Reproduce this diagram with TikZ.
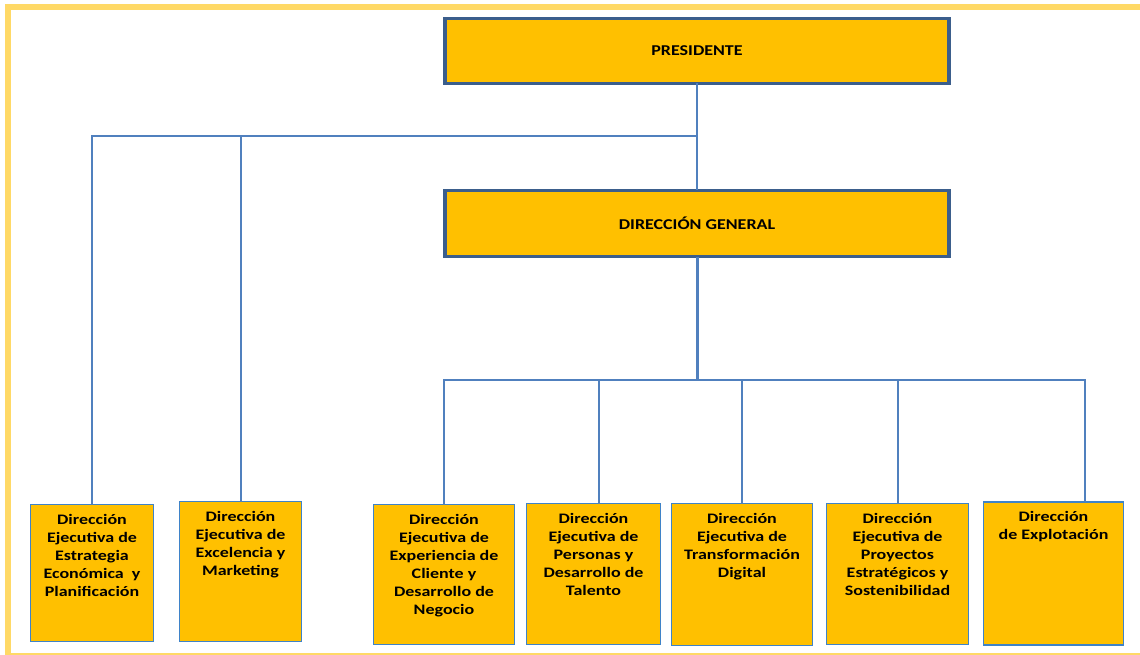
\documentclass[tikz,border=0pt]{standalone}
\usepackage{fontspec}
\setmainfont{Carlito}[FakeStretch=1.2]
\newfontfamily\lowfont{Carlito}[FakeStretch=1.24]
\usepackage{tikz}
\usetikzlibrary{positioning}
\usetikzlibrary{calc}

\definecolor{boxfill}{HTML}{FFC000}
\definecolor{topline}{HTML}{3B5E8C}
\definecolor{lowline}{HTML}{3F83C8}
\definecolor{connline}{HTML}{5080BE}
\definecolor{framecol}{HTML}{FFD966}

\tikzset{
topbox/.style={draw=topline,line width=3.5pt,fill=boxfill,inner sep=0pt,outer sep=0pt,font=\bfseries\fontsize{15}{18}\selectfont},
lowbox/.style={draw=lowline,line width=1.5pt,fill=boxfill,inner sep=0pt,outer sep=0pt},
lowtext/.style={anchor=north,inner sep=0pt,align=center,font=\lowfont\bfseries\fontsize{14.5}{18}\selectfont},
conn/.style={draw=connline,line width=2pt},
trunk/.style={draw=connline,line width=3pt}
}

\begin{document}
\begin{tikzpicture}[x=1pt,y=-1pt]
\useasboundingbox (0,0) rectangle (1140,655);
\clip (0,0) rectangle (1140,655);
\draw[framecol,line width=6pt] (8,7) rectangle (1150,656);

\node[topbox,minimum width=504,minimum height=65](presidente) at (697,51){PRESIDENTE};
\node[topbox,minimum width=504,minimum height=66](general) at (697,223.5){DIRECCIÓN GENERAL};

\node[lowbox,minimum width=123,minimum height=137](estrategia) at (92,573){};
\node[lowbox,minimum width=122,minimum height=140](excelencia) at (240.5,571.5){};
\node[lowbox,minimum width=141,minimum height=140](experiencia) at (444,574.5){};
\node[lowbox,minimum width=134,minimum height=141](personas) at (593.5,574){};
\node[lowbox,minimum width=141,minimum height=142](transformacion) at (742,574.5){};
\node[lowbox,minimum width=142,minimum height=141](proyectos) at (897.5,574){};
\node[lowbox,minimum width=140,minimum height=143](explotacion) at (1053.5,573.5){};

\node[lowtext](estrategiaT) at ([yshift=-9.5pt]estrategia.north){Dirección\\Ejecutiva de\\Estrategia\\Económica~ y\\Planificación};
\node[lowtext](excelenciaT) at ([yshift=-9.5pt]excelencia.north){Dirección\\Ejecutiva de\\Excelencia y\\Marketing};
\node[lowtext](experienciaT) at ([yshift=-9.5pt]experiencia.north){Dirección\\Ejecutiva de\\Experiencia de\\Cliente y\\Desarrollo de\\Negocio};
\node[lowtext](personasT) at ([yshift=-9.5pt]personas.north){Dirección\\Ejecutiva de\\Personas y\\Desarrollo de\\Talento};
\node[lowtext](transformacionT) at ([yshift=-9.5pt]transformacion.north){Dirección\\Ejecutiva de\\Transformación\\Digital};
\node[lowtext](proyectosT) at ([yshift=-9.5pt]proyectos.north){Dirección\\Ejecutiva de\\Proyectos\\Estratégicos y\\Sostenibilidad};
\node[lowtext](explotacionT) at ([yshift=-9.5pt]explotacion.north){Dirección\\de Explotación};

\coordinate (busA) at (697,136);
\coordinate (busB) at (697,380);

% presidente y direccion general
\draw[conn] (presidente.south) -- (general.north);
\draw[conn] (estrategia.north) |- (busA);
\draw[conn] (excelencia.north) |- (busA);

% direcciones ejecutivas
\draw[trunk] (general.south) -- (busB);
\draw[conn] (experiencia.north) |- (busB);
\draw[conn] ([xshift=5.5pt]personas.north) |- (busB);
\draw[conn] (transformacion.north) |- (busB);
\draw[conn] (proyectos.north) |- (busB);
\draw[conn] ([xshift=31.5pt]explotacion.north) |- (busB);
\end{tikzpicture}
\end{document}
